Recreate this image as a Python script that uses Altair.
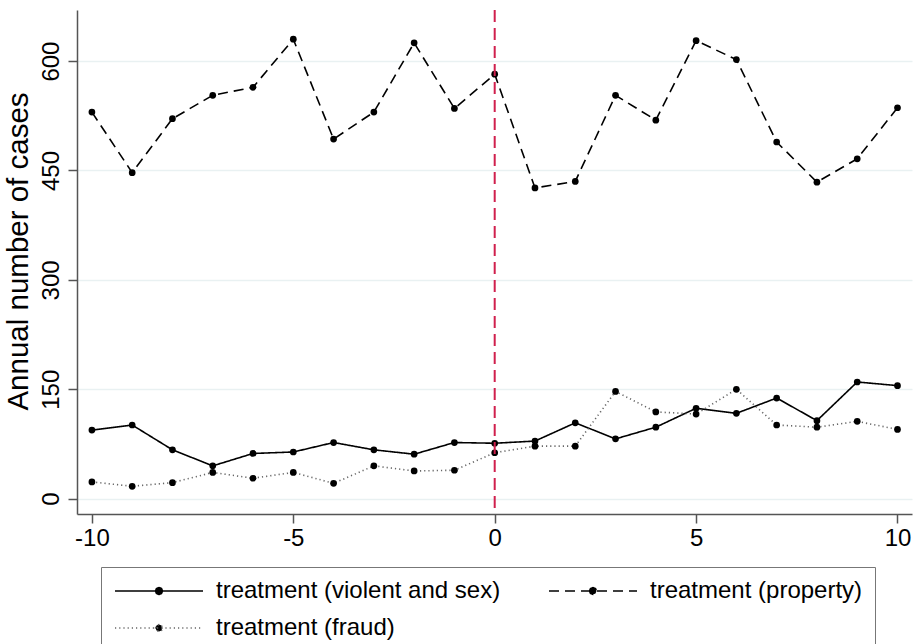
import altair as alt
import pandas as pd

# Years relative to the policy change
years = list(range(-10, 11))

# Annual number of cases per treatment group
violent_sex = [94, 101, 67, 45, 62, 64, 77, 67, 61, 77, 76, 79, 104, 82, 98, 124, 117, 138, 107, 160, 155]
property_cases = [530, 447, 521, 553, 564, 630, 493, 530, 625, 535, 582, 426, 435, 553, 519, 628, 602, 489, 434, 466, 536]
fraud = [23, 17, 22, 36, 28, 36, 21, 45, 38, 39, 63, 72, 72, 147, 119, 116, 150, 101, 98, 106, 95]

series_names = ["treatment (violent and sex)", "treatment (property)", "treatment (fraud)"]
series_values = [violent_sex, property_cases, fraud]

x_ticks = [-10, -5, 0, 5, 10]
y_ticks = [0, 150, 300, 450, 600]
cutoff_year = [0]

rows = []
for name, vals in zip(series_names, series_values):
    for yr, v in zip(years, vals):
        rows.append({"year": yr, "cases": v, "series": name})
df = pd.DataFrame(rows)
cut_df = pd.DataFrame({"year": cutoff_year})

FONT = "Liberation Sans"

x_enc = alt.X(
    "year:Q",
    scale=alt.Scale(domain=[-10.37, 10.36], nice=False, zero=False),
    axis=alt.Axis(values=x_ticks, title=None, grid=False, labelFontSize=24,
                  labelPadding=3, tickSize=9, labelExpr="'' + datum.value"),
)
y_enc = alt.Y(
    "cases:Q",
    scale=alt.Scale(domain=[-21, 670], nice=False, zero=False),
    axis=alt.Axis(values=y_ticks, title="Annual number of cases", grid=True,
                  labelFontSize=24, labelAngle=270, labelAlign="center",
                  labelBaseline="bottom", labelPadding=5, tickSize=9,
                  titleFontSize=29.5, titleFontWeight="normal", titlePadding=6,
                  titleY=241),
)

# line + dot glyph for the legend entries (unit = 10 px at symbolSize 400)
legend_symbol = ("M-1,0L7.8,0M3.05,0L3.15,-0.25L3.4,-0.35L3.65,-0.25"
                 "L3.75,0L3.65,0.25L3.4,0.35L3.15,0.25Z")

dash_scale = alt.Scale(domain=series_names, range=[[1, 0], [10, 6], [1.2, 3]])
color_scale = alt.Scale(domain=series_names, range=["#000000", "#000000", "#666666"])

legend = alt.Legend(
    title=None, orient="none", legendX=24, legendY=557, columns=2,
    direction="horizontal", symbolType=legend_symbol, symbolSize=400,
    symbolStrokeWidth=1.6, symbolFillColor="#000000", labelFontSize=24,
    labelOffset=79, columnPadding=44, rowPadding=13, padding=12,
    strokeColor="#777777", labelLimit=400,
)

lines = alt.Chart(df).mark_line(strokeWidth=1.6).encode(
    x=x_enc,
    y=y_enc,
    strokeDash=alt.StrokeDash("series:N", scale=dash_scale, legend=legend, sort=series_names),
    color=alt.Color("series:N", scale=color_scale, legend=legend, sort=series_names),
)

points = alt.Chart(df).mark_circle(size=45, opacity=1, color="#000000").encode(
    x="year:Q",
    y="cases:Q",
    detail="series:N",
)

cut_rule = alt.Chart(cut_df).mark_rule(color="#d0204d", strokeWidth=2, strokeDash=[12, 6]).encode(
    x="year:Q"
)

chart = alt.layer(lines, points, cut_rule).properties(
    width=835,
    height=504,
    autosize=alt.AutoSizeParams(type="none"),
    padding={"left": 77, "top": 10, "right": 4, "bottom": 130},
).configure(
    font=FONT,
).configure_view(
    strokeWidth=0,
).configure_axis(
    domainColor="#555555",
    domainWidth=1.5,
    tickColor="#555555",
    tickWidth=1.5,
    gridColor="#e9f1f2",
    gridWidth=1.5,
    labelColor="#000000",
    titleColor="#000000",
    labelFont=FONT,
    titleFont=FONT,
).configure_legend(
    labelFont=FONT,
    labelColor="#000000",
)

chart.save("out.html", embed_options={"renderer": "svg", "actions": False})
